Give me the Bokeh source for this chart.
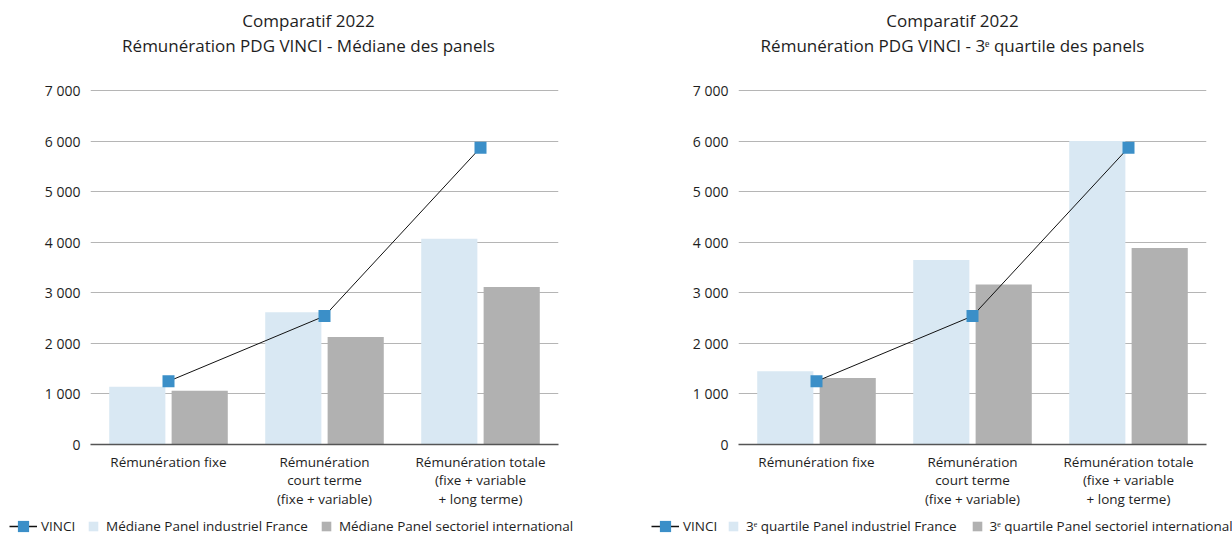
from bokeh.plotting import figure
from bokeh.layouts import row, column
from bokeh.models import (ColumnDataSource, Range1d, FactorRange, FixedTicker,
                          Legend, LegendItem)
from bokeh.core.properties import value
from bokeh.transform import dodge
from bokeh.embed import file_html
from bokeh.resources import INLINE

# ---------------- data ----------------
categories = [
    "Rémunération fixe",
    "Rémunération\ncourt terme\n(fixe + variable)",
    "Rémunération totale\n(fixe + variable\n+ long terme)",
]
vinci = [1250, 2540, 5870]
mediane_france = [1140, 2615, 4070]
mediane_international = [1065, 2125, 3115]
q3_france = [1450, 3650, 6000]
q3_international = [1315, 3165, 3885]

y_ticks = [0, 1000, 2000, 3000, 4000, 5000, 6000, 7000]
y_tick_labels = ["0", "1 000", "2 000", "3 000", "4 000", "5 000", "6 000", "7 000"]

title_top = "Comparatif 2022"
title_left = "Rémunération PDG VINCI - Médiane des panels"
title_right = "Rémunération PDG VINCI - 3ᵉ quartile des panels"
leg_vinci = "VINCI"
leg_left = ["Médiane Panel industriel France", "Médiane Panel sectoriel international"]
leg_right = ["3ᵉ quartile Panel industriel France", "3ᵉ quartile Panel sectoriel international"]

# ---------------- style ----------------
FONT = "Open Sans"
LIGHT = "#d9e8f3"
GREY = "#b1b1b1"
BLUE = "#3b8fc8"
TXT = "#1e1e1e"
TITLE_H = 60
CHART_H = 458
LEG_H = 16


def bare(p):
    p.axis.visible = False
    p.grid.grid_line_color = None
    p.outline_line_color = None
    p.background_fill_color = None
    p.border_fill_color = None
    return p


def title_fig(width, cx, subtitle):
    p = bare(figure(width=width, height=TITLE_H, x_range=Range1d(0, width),
                    y_range=Range1d(TITLE_H, 0), min_border=0,
                    min_border_left=0, min_border_right=0,
                    min_border_top=0, min_border_bottom=0, frame_align=False,
                    output_backend="svg", toolbar_location=None))
    p.text(x=[cx, cx], y=[20.2, 45.2], text=[title_top, subtitle],
           text_align="center", text_baseline="alphabetic",
           text_font=value(FONT), text_font_size="17px", text_color=TXT)
    return p


def chart_fig(width, bl, br, fr_vals, int_vals):
    src = ColumnDataSource(dict(cat=categories, vinci=vinci, fr=fr_vals, intl=int_vals))
    p = figure(x_range=FactorRange(*categories, range_padding=0),
               y_range=Range1d(0, 7040), width=width, height=CHART_H,
               min_border_left=bl, min_border_right=br,
               min_border_top=28, min_border_bottom=74, frame_align=False,
               output_backend="svg", toolbar_location=None)
    p.outline_line_color = None

    p.vbar(x=dodge("cat", -0.2, range=p.x_range), top="fr", width=0.36,
           source=src, fill_color=LIGHT, line_color=None)
    p.vbar(x=dodge("cat", 0.2, range=p.x_range), top="intl", width=0.36,
           source=src, fill_color=GREY, line_color=None)
    p.line(x="cat", y="vinci", source=src, line_color="#111111", line_width=1)
    p.scatter(x="cat", y="vinci", source=src, marker="square", size=12,
              fill_color=BLUE, line_color=None)

    p.yaxis.ticker = FixedTicker(ticks=y_ticks)
    p.yaxis.major_label_overrides = {t: l for t, l in zip(y_ticks, y_tick_labels)}
    p.yaxis.axis_line_color = None
    p.yaxis.major_tick_line_color = None
    p.yaxis.minor_tick_line_color = None
    p.yaxis.major_tick_out = 0
    p.yaxis.major_tick_in = 0
    p.yaxis.major_label_standoff = 10
    p.yaxis.major_label_text_font = FONT
    p.yaxis.major_label_text_font_size = "14px"
    p.yaxis.major_label_text_color = TXT

    p.xaxis.axis_line_color = "#555555"
    p.xaxis.axis_line_width = 1.5
    p.xaxis.major_tick_line_color = None
    p.xaxis.minor_tick_line_color = None
    p.xaxis.major_tick_out = 0
    p.xaxis.major_tick_in = 0
    p.xaxis.major_label_standoff = 8
    p.xaxis.major_label_text_font = FONT
    p.xaxis.major_label_text_font_size = "13.5px"
    p.xaxis.major_label_text_line_height = 1.03
    p.xaxis.major_label_text_color = TXT

    p.xgrid.grid_line_color = None
    p.ygrid.ticker = FixedTicker(ticks=y_ticks[1:])
    p.ygrid.grid_line_color = "#b5b5b5"
    p.ygrid.grid_line_width = 1
    return p


def legend_fig(width, x1, x2, labels, spacing):
    p = bare(figure(width=width, height=LEG_H, x_range=Range1d(0, width),
                    y_range=Range1d(0, LEG_H), min_border=0,
                    min_border_left=0, min_border_right=0,
                    min_border_top=0, min_border_bottom=0, frame_align=False,
                    output_backend="svg", toolbar_location=None))
    # legend proxies: one point each, placed outside the visible ranges
    off = [-1000]
    r_line = p.line(x=off, y=off, line_color="#111111", line_width=1.5)
    r_sc = p.scatter(x=off, y=off, marker="square", size=12, fill_color=BLUE,
                     line_color=None)
    r_fr = p.vbar(x=off, top=off, bottom=-1001, width=1, fill_color=LIGHT, line_color=None)
    r_int = p.vbar(x=off, top=off, bottom=-1001, width=1, fill_color=GREY, line_color=None)
    common = dict(orientation="horizontal", padding=0, margin=0,
                  border_line_color=None, background_fill_alpha=0,
                  label_text_font=FONT, label_text_font_size="13.5px",
                  label_text_color=TXT, label_height=12)
    l1 = Legend(items=[LegendItem(label=leg_vinci, renderers=[r_line, r_sc])],
                location=(x1, -7), glyph_width=28, glyph_height=30,
                label_standoff=4, **common)
    l2 = Legend(items=[LegendItem(label=labels[0], renderers=[r_fr]),
                       LegendItem(label=labels[1], renderers=[r_int])],
                location=(x2, -1), glyph_width=12, glyph_height=12,
                label_standoff=7, spacing=spacing, **common)
    p.add_layout(l1)
    p.add_layout(l2)
    return p


left = column(title_fig(632, 308, title_left),
              chart_fig(632, 90, 74, mediane_france, mediane_international),
              legend_fig(632, 9, 87, leg_left, 12))
right = column(title_fig(600, 320, title_right),
               chart_fig(600, 106, 26, q3_france, q3_international),
               legend_fig(600, 19, 95, leg_right, 14))

layout = row(left, right)
open("out.html", "w").write(file_html(layout, INLINE))
